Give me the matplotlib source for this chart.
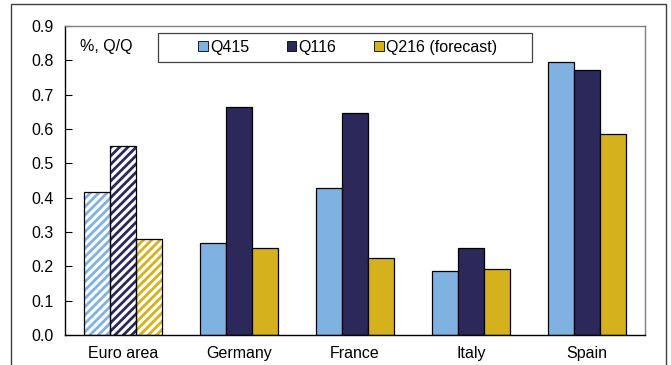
import matplotlib
matplotlib.use("Agg")
import matplotlib.pyplot as plt
from matplotlib.patches import Rectangle, Patch
import numpy as np

plt.rcParams['font.family'] = ['Liberation Sans', 'DejaVu Sans']
plt.rcParams['hatch.linewidth'] = 2.0

categories = ["Euro area", "Germany", "France", "Italy", "Spain"]
series_names = ["Q415", "Q116", "Q216 (forecast)"]
q415 = [0.417, 0.268, 0.428, 0.185, 0.795]
q116 = [0.550, 0.665, 0.647, 0.254, 0.772]
q216 = [0.281, 0.252, 0.225, 0.193, 0.586]
yticks = [0.0, 0.1, 0.2, 0.3, 0.4, 0.5, 0.6, 0.7, 0.8, 0.9]
colors = ["#80b2e1", "#2d285a", "#d5b11e"]

W, H, DPI = 671, 365, 100
fig = plt.figure(figsize=(W / DPI, H / DPI), dpi=DPI)
ax = fig.add_axes([65 / W, 1 - 335 / H, 580 / W, 309 / H])

# outer panel border
fig.patches.append(Rectangle((11 / W, -0.1), 655 / W, 1.1 - 4 / H,
                             transform=fig.transFigure, fill=False,
                             edgecolor="#404040", linewidth=1.0, clip_on=False))

x = np.arange(len(categories))
bw = 0.224
values = [q415, q116, q216]
for k, (vals, col) in enumerate(zip(values, colors)):
    pos = x + (k - 1) * bw
    # first group is hatched, the rest solid
    ax.bar(pos[:1], vals[:1], bw, facecolor="white", edgecolor=col,
           hatch="////", linewidth=0, zorder=2)
    ax.bar(pos[:1], vals[:1], bw, fill=False, edgecolor="black",
           linewidth=0.9, zorder=3)
    ax.bar(pos[1:], vals[1:], bw, color=col, edgecolor="black",
           linewidth=0.9, zorder=2)

ax.set_xlim(-0.5, len(categories) - 0.5)
ax.set_ylim(0, 0.9)
ax.set_yticks(yticks)
ax.set_yticklabels([f"{v:.1f}" for v in yticks])
ax.set_xticks(x)
ax.set_xticklabels(categories)
ax.tick_params(axis="y", direction="in", length=5, width=0.8, labelsize=11.5, pad=8)
ax.tick_params(axis="x", length=0, labelsize=11.5, pad=8)
for s in ("top", "right"):
    ax.spines[s].set_color("#808080")
for s in ("left", "bottom"):
    ax.spines[s].set_color("black")
for s in ax.spines.values():
    s.set_linewidth(1.0)

ax.text(80 / W, 1 - 46 / H, "%, Q/Q", transform=fig.transFigure,
        fontsize=11.5, va="center", ha="left")

# legend box
fig.patches.append(Rectangle((158 / W, 1 - 62 / H), 374 / W, 29 / H,
                             transform=fig.transFigure, fill=False,
                             edgecolor="#404040", linewidth=0.9))
handles = [Patch(facecolor=c, edgecolor="black", linewidth=0.6) for c in colors]
leg = ax.legend(handles, series_names, ncol=3, frameon=False, fontsize=11.5,
                loc="center left", bbox_to_anchor=(198 / W, 1 - 47.5 / H),
                bbox_transform=fig.transFigure, handlelength=0.6,
                handleheight=0.6, handletextpad=0.15, columnspacing=2.35,
                borderpad=0, borderaxespad=0)

fig.savefig("out.png", dpi=DPI)
